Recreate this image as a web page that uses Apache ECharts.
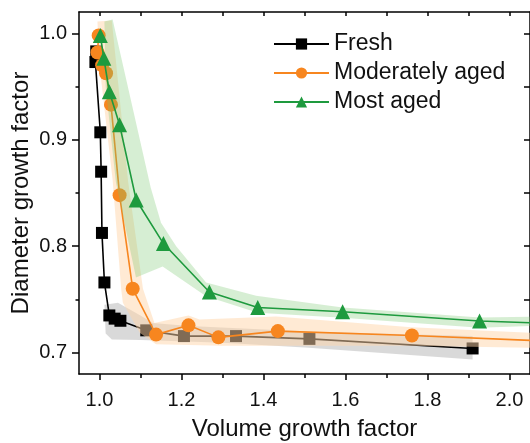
<!DOCTYPE html>
<html><head><meta charset="utf-8">
<script src="https://cdn.jsdelivr.net/npm/echarts@6/dist/echarts.min.js"></script>
<style>html,body{margin:0;padding:0;background:#fff}#c{width:530px;height:443px}</style>
</head><body><div id="c"></div>
<script>
// ---- data ----
const freshData = [[0.992,0.983],[0.990,0.973],[1.002,0.907],[1.004,0.870],[1.006,0.8125],[1.012,0.766],[1.024,0.735],[1.037,0.732],[1.051,0.730],[1.114,0.721],[1.206,0.7156],[1.333,0.7156],[1.512,0.713],[1.910,0.704]];
const modData = [[0.998,0.998],[0.995,0.982],[1.0065,0.970],[1.016,0.9625],[1.028,0.933],[1.049,0.848],[1.081,0.760],[1.138,0.717],[1.217,0.7257],[1.290,0.7144],[1.435,0.7203],[1.762,0.7162],[2.05,0.7116]];
const mostData = [[1.002,0.998],[1.0105,0.9766],[1.024,0.945],[1.049,0.914],[1.0895,0.8434],[1.156,0.8025],[1.268,0.757],[1.386,0.7425],[1.593,0.7384],[1.927,0.7298],[2.05,0.7281]];
// uncertainty bands: upper edge then lower edge (polygon outline)
const freshBandUpper = [[1.012,0.745],[1.045,0.747],[1.10,0.735],[1.13,0.728],[1.22,0.725],[1.51,0.720],[1.91,0.7156]];
const freshBandLower = [[1.91,0.6937],[1.51,0.7047],[1.30,0.7094],[1.10,0.712],[1.03,0.7125],[1.015,0.718]];
const modBandUpper = [[0.995,1.011],[1.03,1.012],[1.07,0.86],[1.106,0.760],[1.134,0.728],[1.217,0.735],[1.244,0.7312],[1.431,0.734],[1.76,0.724],[2.05,0.7188]];
const modBandLower = [[2.05,0.7047],[1.76,0.7066],[1.30,0.7066],[1.138,0.708],[1.098,0.7187],[1.057,0.747],[1.053,0.7594],[1.032,0.8625],[1.0,0.97]];
const mostBandUpper = [[1.012,1.011],[1.032,1.013],[1.125,0.855],[1.150,0.822],[1.187,0.80],[1.26,0.766],[1.382,0.7535],[1.593,0.7425],[1.927,0.733],[2.05,0.7338]];
const mostBandLower = [[2.05,0.725],[1.927,0.7234],[1.593,0.7328],[1.386,0.7375],[1.26,0.7531],[1.154,0.781],[1.089,0.7706],[1.04,0.86],[1.015,0.95]];
const xMajorTicks = [1.0,1.2,1.4,1.6,1.8,2.0];
const xMinorTicks = [1.1,1.3,1.5,1.7,1.9];
const xAllTicks = [1.0,1.1,1.2,1.3,1.4,1.5,1.6,1.7,1.8,1.9,2.0];
const yMajorTicks = [0.7,0.8,0.9,1.0];
const yMinorTicks = [0.75,0.85,0.95];
const yAllTicks = [0.7,0.75,0.8,0.85,0.9,0.95,1.0];
const seriesNames = ['Fresh','Moderately aged','Most aged'];

const FONT = "'Liberation Sans', Arial, sans-serif";
const BLACK = '#000000', ORANGE = '#f7861f', GREEN = '#1e9a3e';

function band(name, upper, lower, fill, z) {
  const pts = upper.concat(lower);
  return {
    type: 'custom', name: name, z: z, silent: true, xAxisIndex: 0, yAxisIndex: 0,
    data: pts,
    renderItem: function (params, api) {
      if (params.dataIndex !== 0) return null;
      return { type: 'polygon', shape: { points: pts.map(p => api.coord(p)) }, style: { fill: fill } };
    }
  };
}
function line(name, data, color, symbol, size, z) {
  return {
    type: 'line', name: name, z: z, xAxisIndex: 0, yAxisIndex: 0,
    data: data.map((p, i) => (p[0] >= 2.05 ? { value: p, symbol: 'none' } : p)),
    symbol: symbol, symbolSize: size,
    lineStyle: { color: color, width: 1.6 },
    itemStyle: { color: color },
    emphasis: { disabled: true }
  };
}
const axLine = { show: true, lineStyle: { color: BLACK, width: 1.5 } };
const chart = echarts.init(document.getElementById('c'), null, { renderer: 'canvas' });
chart.setOption({
  animation: false,
  textStyle: { fontFamily: FONT },
  grid: { left: 79, top: 12, width: 451, height: 362, containLabel: false, outerBoundsMode: 'none' },
  legend: {
    left: 268, top: 27, orient: 'vertical', itemWidth: 55, itemHeight: 14, itemGap: 5,
    data: seriesNames,
    textStyle: { fontSize: 23, color: '#111', fontFamily: FONT, lineHeight: 24 }
  },
  xAxis: [
    { type: 'value', position: 'bottom', min: 0.95, max: 2.05,
      axisLine: axLine, splitLine: { show: false },
      axisTick: { customValues: xMajorTicks, length: 6, inside: false, lineStyle: { color: BLACK, width: 1.5 } },
      axisLabel: { customValues: xMajorTicks, formatter: v => v.toFixed(1), fontSize: 20, color: '#111', margin: 16, fontFamily: FONT },
      name: 'Volume growth factor', nameLocation: 'middle', nameGap: 43, nameMoveOverlap: false,
      nameTextStyle: { fontSize: 24, color: '#111', fontFamily: FONT } },
    { type: 'value', position: 'bottom', min: 0.95, max: 2.05,
      axisLine: { show: false }, splitLine: { show: false }, axisLabel: { show: false },
      axisTick: { customValues: xMinorTicks, length: 4, inside: false, lineStyle: { color: BLACK, width: 1.5 } } },
    { type: 'value', position: 'top', min: 0.95, max: 2.05,
      axisLine: axLine, splitLine: { show: false }, axisLabel: { show: false },
      axisTick: { customValues: xAllTicks, length: 4, inside: true, lineStyle: { color: BLACK, width: 1.5 } } }
  ],
  yAxis: [
    { type: 'value', position: 'left', min: 0.68, max: 1.02,
      axisLine: axLine, splitLine: { show: false },
      axisTick: { customValues: yMajorTicks, length: 7, inside: false, lineStyle: { color: BLACK, width: 1.5 } },
      axisLabel: { customValues: yMajorTicks, formatter: v => v.toFixed(1), fontSize: 20, color: '#111', margin: 12, fontFamily: FONT },
      name: 'Diameter growth factor', nameLocation: 'middle', nameGap: 46, nameMoveOverlap: false,
      nameTextStyle: { fontSize: 24, color: '#111', fontFamily: FONT } },
    { type: 'value', position: 'left', min: 0.68, max: 1.02,
      axisLine: { show: false }, splitLine: { show: false }, axisLabel: { show: false },
      axisTick: { customValues: yMinorTicks, length: 3.5, inside: false, lineStyle: { color: BLACK, width: 1.5 } } },
    { type: 'value', position: 'right', min: 0.68, max: 1.02,
      axisLine: axLine, splitLine: { show: false }, axisLabel: { show: false },
      axisTick: { customValues: yAllTicks, length: 6, inside: true, lineStyle: { color: BLACK, width: 1.5 } } }
  ],
  series: [
    band('freshBand', freshBandUpper, freshBandLower, 'rgba(0,0,0,0.15)', 1),
    line(seriesNames[0], freshData, BLACK, 'rect', 12, 2),
    band('modBand', modBandUpper, modBandLower, 'rgba(255,214,170,0.5)', 3),
    line(seriesNames[1], modData, ORANGE, 'circle', 14, 4),
    band('mostBand', mostBandUpper, mostBandLower, 'rgba(120,200,110,0.3)', 5),
    line(seriesNames[2], mostData, GREEN, 'triangle', 15, 6)
  ]
});
</script></body></html>
